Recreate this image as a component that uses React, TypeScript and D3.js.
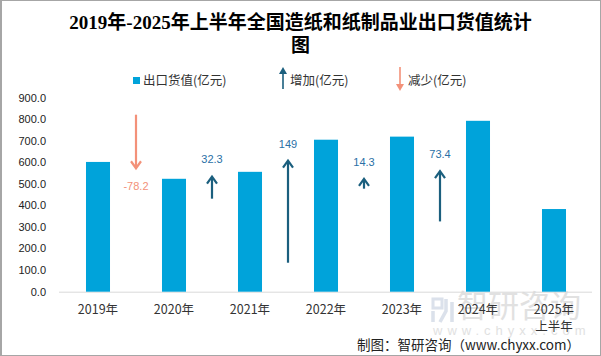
import React from "react";
import * as d3 from "d3";

const categories = ["2019年", "2020年", "2021年", "2022年", "2023年", "2024年", "2025年"];
const exportValues = [602.0, 523.8, 556.1, 705.1, 719.4, 792.8, 383.5];
const changeValues = [-78.2, 32.3, 149, 14.3, 73.4];
const changeLabels = ["-78.2", "32.3", "149", "14.3", "73.4"];
// arrow start positions on the secondary (arrow) axis
const arrowStarts = [258.4, 135.8, 42.3, 150.4, 102.6];
const yTicks = [0, 100, 200, 300, 400, 500, 600, 700, 800, 900];

const W = 601;
const H = 356;
const plotLeft = 60;
const plotRight = 592;
const plotTop = 97.7;
const plotBottom = 291.7;

const BAR = "#00a3da";
const UP = "#1b5f7e";
const UP_LABEL = "#2a70a6";
const DOWN = "#f39179";
const SANS = "'Liberation Sans', 'Noto Sans CJK SC', sans-serif";
const CJK = "'Noto Sans CJK SC', 'Liberation Sans', sans-serif";
const SERIF = "'Liberation Serif', 'Noto Sans CJK SC', serif";

export default function App() {
  const x = d3
    .scaleBand<string>()
    .domain(categories)
    .range([plotLeft, plotRight])
    .paddingInner(0.684)
    .paddingOuter(0.342);
  const y = d3.scaleLinear().domain([0, 900]).range([plotBottom, plotTop]);
  const y2 = d3.scaleLinear().domain([0, 283.2]).range([plotBottom, plotTop]);
  const step = x.step();
  const bw = x.bandwidth();

  return (
    <svg
      width={W}
      height={H}
      style={{ position: "absolute", left: 0, top: 0, background: "#fff" }}
    >
      <rect x={0} y={0} width={W} height={H} fill="#fff" />
      {/* watermark */}
      <g opacity={0.5}>
        <rect x={433} y={299} width={9} height={9} fill="none" stroke="#b8c4d8" strokeWidth={3} />
        <path d="M433,311 L433,322 M446,299 L446,311 L440,322 M452,302 L452,322" stroke="#b8c4d8" strokeWidth={3.5} fill="none" />
        <text x={457} y={317} fontFamily={CJK} fontSize={31} fill="#c4c4c4">
          智研咨询
        </text>
        <text x={433} y={335} fontFamily={SANS} fontSize={13} fill="#c4c4c4" letterSpacing={5}>
          www.chyxx.com
        </text>
      </g>
      {/* title */}
      <text x={300.5} y={29} textAnchor="middle" fontFamily={SERIF} fontWeight="bold" fontSize={19} fill="#000">
        2019年-2025年上半年全国造纸和纸制品业出口货值统计
      </text>
      <text x={300.5} y={52} textAnchor="middle" fontFamily={SERIF} fontWeight="bold" fontSize={19} fill="#000">
        图
      </text>
      {/* legend */}
      <rect x={133} y={77} width={7} height={7} fill={BAR} />
      <text x={143} y={85} fontFamily={CJK} fontSize={12.5} fill="#333">
        出口货值(亿元)
      </text>
      <line x1={283} x2={283} y1={89} y2={72} stroke={UP} strokeWidth={1.6} />
      <path d="M279,74 L283,67 L287,74 Z" fill={UP} />
      <text x={290} y={85} fontFamily={CJK} fontSize={12.5} fill="#333">
        增加(亿元)
      </text>
      <line x1={400} x2={400} y1={67} y2={85} stroke={DOWN} strokeWidth={1.6} />
      <path d="M396,84 L400,91 L404,84 Z" fill={DOWN} />
      <text x={408} y={85} fontFamily={CJK} fontSize={12.5} fill="#333">
        减少(亿元)
      </text>
      {/* y ticks */}
      {yTicks.map((t) => (
        <text key={t} x={46} y={y(t)} dy="0.35em" textAnchor="end" fontFamily={SANS} fontSize={11} fill="#222">
          {t.toFixed(1)}
        </text>
      ))}
      {/* axis line */}
      <line x1={plotLeft - 1} x2={plotRight} y1={plotBottom + 0.5} y2={plotBottom + 0.5} stroke="#d9d9d9" strokeWidth={1} />
      {/* bars */}
      {categories.map((c, i) => (
        <rect
          key={c}
          x={x(c)!}
          y={y(exportValues[i])}
          width={bw}
          height={plotBottom - y(exportValues[i])}
          fill={BAR}
        />
      ))}
      {/* x labels */}
      {categories.map((c) => (
        <text key={c} x={x(c)! + bw / 2} y={314} textAnchor="middle" fontFamily={CJK} fontSize={12.5} fill="#333">
          {c}
        </text>
      ))}
      <text x={x(categories[6])! + bw / 2} y={331} textAnchor="middle" fontFamily={CJK} fontSize={12.5} fill="#333">
        上半年
      </text>
      {/* change arrows */}
      {changeValues.map((v, i) => {
        const cx = x(categories[i])! + bw / 2 + step / 2;
        const y0 = y2(arrowStarts[i]);
        const y1 = y2(arrowStarts[i] + v);
        const up = v >= 0;
        const col = up ? UP : DOWN;
        const hd = up ? 7 : -7;
        return (
          <g key={i}>
            <line x1={cx} x2={cx} y1={y0} y2={y1 + (up ? 1 : -1)} stroke={col} strokeWidth={2.2} />
            <path
              d={`M${cx - 5},${y1 + hd} L${cx},${y1} L${cx + 5},${y1 + hd}`}
              fill="none"
              stroke={col}
              strokeWidth={2.2}
            />
            <text
              x={cx}
              y={up ? y1 - 17 : y1 + 18}
              dy="0.35em"
              textAnchor="middle"
              fontFamily={SANS}
              fontSize={11}
              fill={up ? UP_LABEL : DOWN}
            >
              {changeLabels[i]}
            </text>
          </g>
        );
      })}
      {/* source */}
      <text x={580} y={350} textAnchor="end" fontFamily={CJK} fontSize={13.5} fill="#222">
        制图：智研咨询（www.chyxx.com）
      </text>
      {/* border */}
      <rect x={0.5} y={0.5} width={W - 1} height={H - 1} fill="none" stroke="#a6a6a6" strokeWidth={1} />
      <line x1={1.5} x2={1.5} y1={0} y2={H} stroke="#a6a6a6" strokeWidth={1} />
    </svg>
  );
}
